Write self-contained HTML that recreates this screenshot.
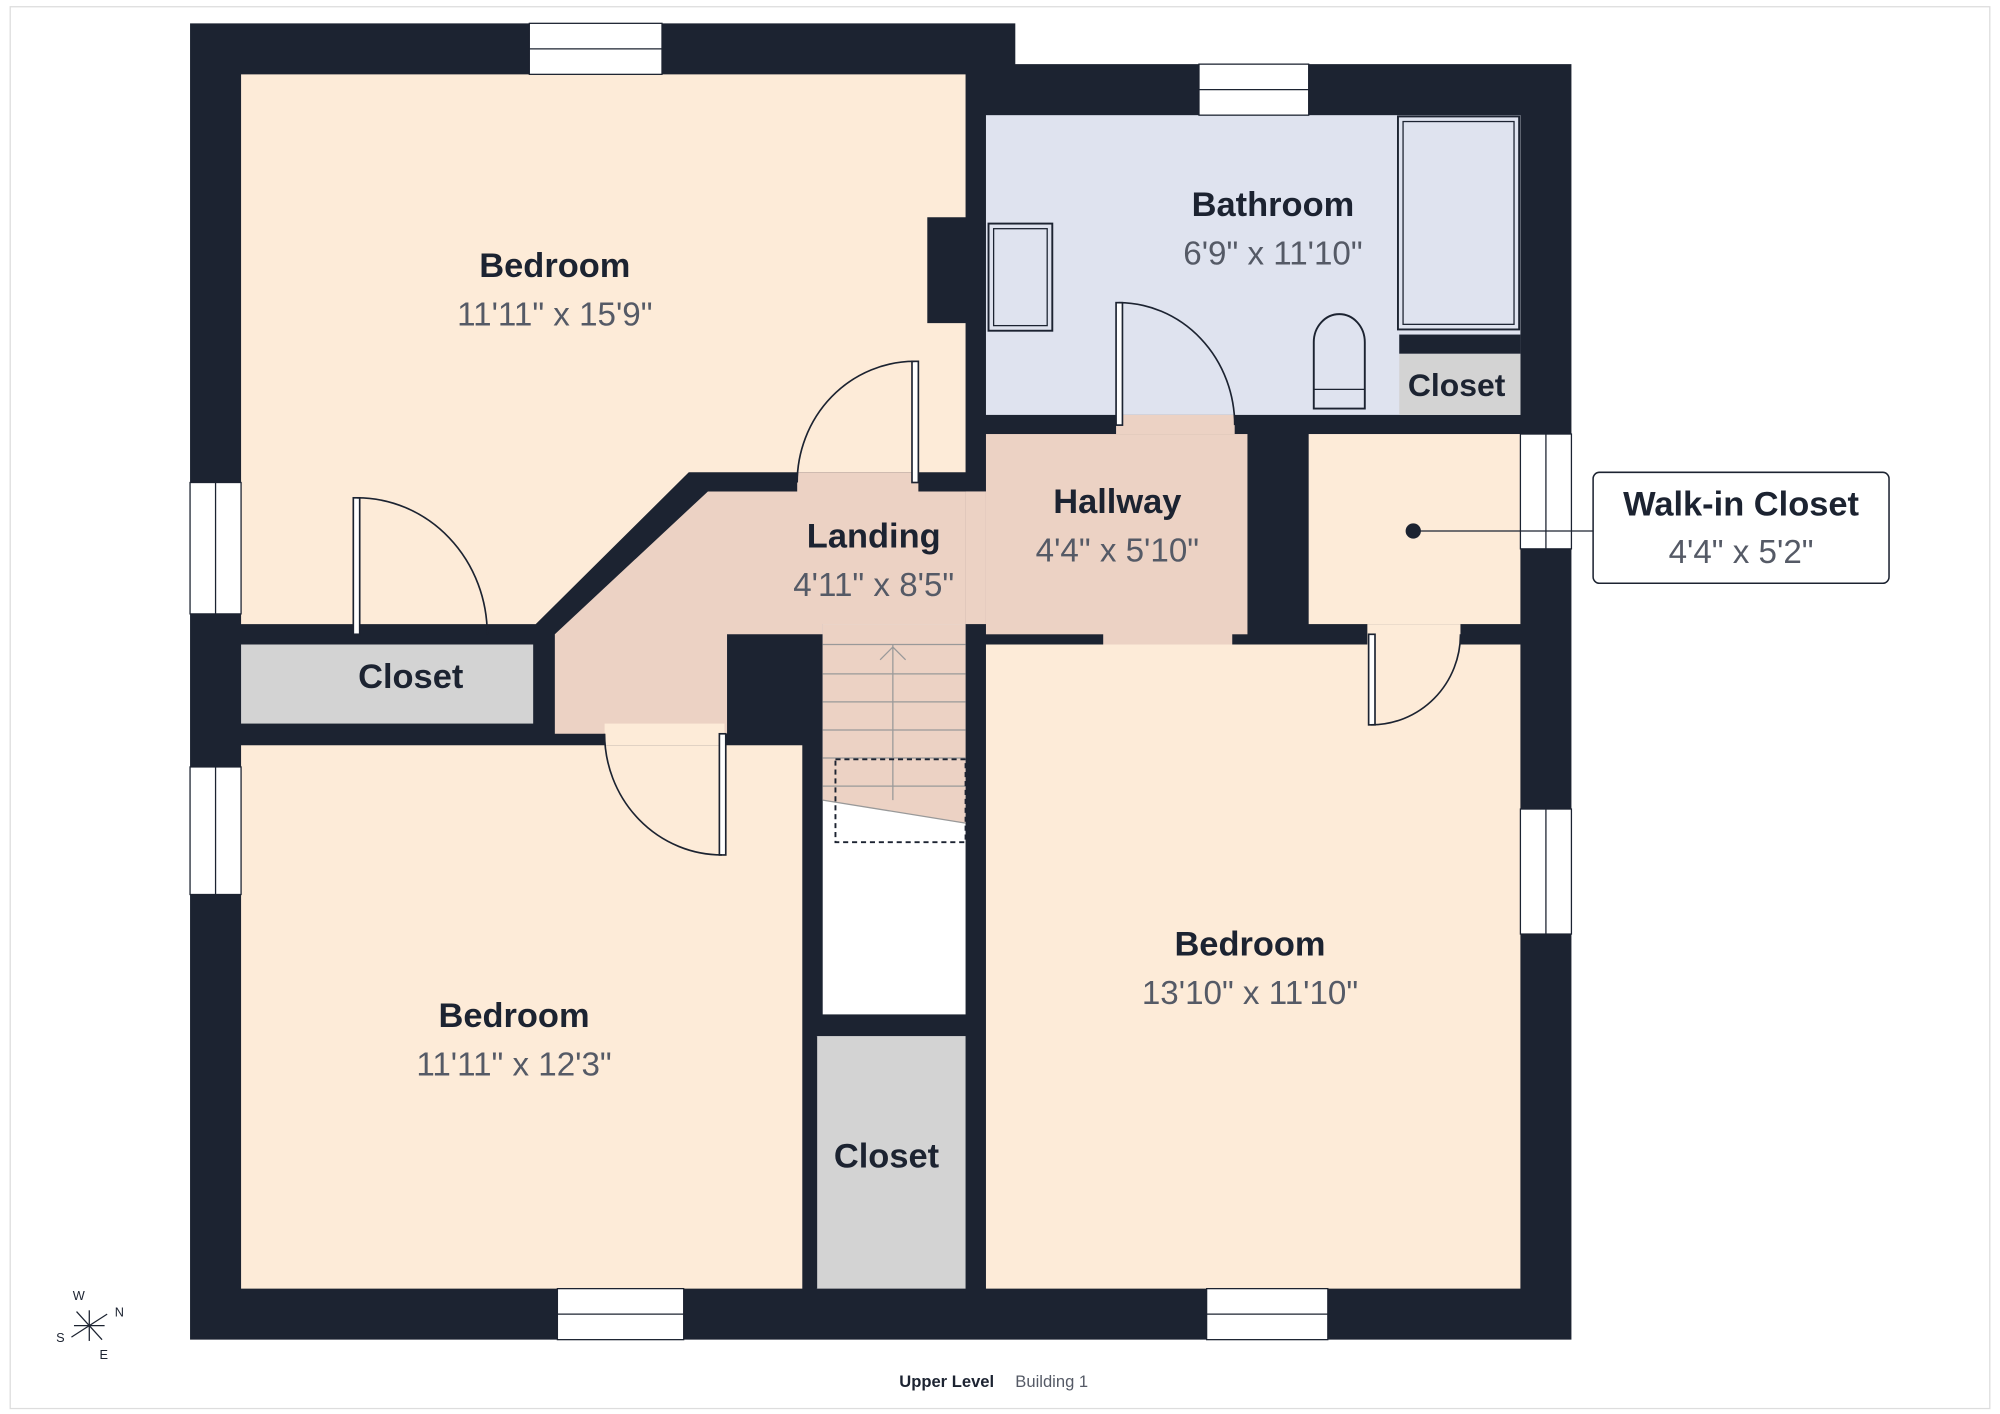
<!DOCTYPE html>
<html><head><meta charset="utf-8"><style>
html,body{margin:0;padding:0;background:#fff;width:2000px;height:1414px;overflow:hidden}
svg{display:block}
text{font-family:"Liberation Sans",sans-serif}
.lb{font-weight:bold;font-size:27px;fill:#1c2331;text-anchor:middle}
.dm{font-size:26px;fill:#555a66;text-anchor:middle}
</style></head><body>
<svg width="2000" height="1414" viewBox="0 0 1568 1108" xmlns="http://www.w3.org/2000/svg">
<rect x="8" y="5" width="1552" height="1099" fill="none" stroke="#ddd" stroke-width="1"/>
<path d="M149 18 H796 V50 H1232 V1050 H149 Z" fill="#1c2331"/>
<polygon points="189,58 757,58 757,170 727,170 727,253 757,253 757,370 540,370 420,489 189,489" fill="#fdebd8"/>
<polygon points="555,385 757,385 757,489 645,489 645,497 570,497 570,575 435,575 435,497" fill="#ecd2c4"/>
<rect x="773" y="340" width="205" height="157" fill="#ecd2c4"/>
<rect x="865" y="489" width="101" height="16" fill="#ecd2c4"/>
<rect x="625" y="370" width="95" height="16" fill="#ecd2c4"/>
<rect x="757" y="385" width="16" height="104" fill="#ecd2c4"/>
<rect x="189" y="505" width="229" height="62" fill="#d3d3d3"/>
<rect x="189" y="584" width="440" height="426" fill="#fdebd8"/>
<rect x="474" y="567" width="94" height="17" fill="#fdebd8"/>
<rect x="645" y="489" width="112" height="306" fill="#fff"/>
<polygon points="645,489 757,489 757,645 645,627" fill="#ecd2c4"/>
<g stroke="#999" stroke-width="1">
<line x1="645" y1="505" x2="757" y2="505"/>
<line x1="645" y1="528" x2="757" y2="528"/><line x1="645" y1="550" x2="757" y2="550"/>
<line x1="645" y1="572" x2="757" y2="572"/><line x1="645" y1="594" x2="757" y2="594"/>
<line x1="645" y1="616" x2="757" y2="616"/><line x1="645" y1="627" x2="757" y2="645"/>
<line x1="700" y1="505" x2="700" y2="627"/>
<polyline points="690,517 700,507 710,517" fill="none"/>
</g>
<rect x="655" y="595" width="102" height="65" fill="none" stroke="#1c2331" stroke-width="1.5" stroke-dasharray="4,3"/>
<rect x="640" y="812" width="117" height="198" fill="#d3d3d3"/>
<rect x="773" y="505" width="419" height="505" fill="#fdebd8"/>
<rect x="865" y="489" width="101" height="16" fill="#ecd2c4"/>
<rect x="1072" y="489" width="73" height="16" fill="#fdebd8"/>
<rect x="773" y="90" width="419" height="235" fill="#dfe3ef"/>
<rect x="875" y="325" width="93" height="15" fill="#ecd2c4"/>
<rect x="1097" y="277" width="95" height="48" fill="#d3d3d3"/>
<rect x="1026" y="340" width="166" height="149" fill="#fdebd8"/>
<rect x="775" y="175" width="50" height="84" fill="none" stroke="#1c2331" stroke-width="1.5"/>
<rect x="779" y="179" width="42" height="76" fill="none" stroke="#1c2331" stroke-width="1"/>
<rect x="1096" y="91" width="95" height="167" fill="none" stroke="#1c2331" stroke-width="1.5"/>
<rect x="1100" y="95" width="87" height="159" fill="none" stroke="#1c2331" stroke-width="1"/>
<path d="M1030 320 V268 A20 22 0 0 1 1070 268 V320 Z" fill="none" stroke="#1c2331" stroke-width="1.5"/>
<line x1="1030" y1="305" x2="1070" y2="305" stroke="#1c2331"/>
<rect x="1097" y="262" width="95" height="15" fill="#1c2331"/>
<g fill="#fff" stroke="#1c2331" stroke-width="1">
<rect x="415" y="18" width="104" height="40"/><line x1="415" y1="38" x2="519" y2="38"/>
<rect x="940" y="50" width="86" height="40"/><line x1="940" y1="70" x2="1026" y2="70"/>
<rect x="149" y="378" width="40" height="103"/><line x1="169" y1="378" x2="169" y2="481"/>
<rect x="149" y="601" width="40" height="100"/><line x1="169" y1="601" x2="169" y2="701"/>
<rect x="1192" y="340" width="40" height="90"/><line x1="1212" y1="340" x2="1212" y2="430"/>
<rect x="1192" y="634" width="40" height="98"/><line x1="1212" y1="634" x2="1212" y2="732"/>
<rect x="437" y="1010" width="99" height="40"/><line x1="437" y1="1030" x2="536" y2="1030"/>
<rect x="946" y="1010" width="95" height="40"/><line x1="946" y1="1030" x2="1041" y2="1030"/>
</g>
<g fill="#fff" stroke="#1c2331" stroke-width="1.3">
<rect x="715" y="283" width="5" height="95"/><path d="M625 378 A92 95 0 0 1 717 283" fill="none"/>
<rect x="277" y="390" width="5" height="107"/><path d="M382 497 A102 107 0 0 0 280 390" fill="none"/>
<rect x="564" y="575" width="5" height="95"/><path d="M474 575 A92 95 0 0 0 566 670" fill="none"/>
<rect x="875" y="237" width="5" height="96"/><path d="M968 333 A91 96 0 0 0 877 237" fill="none"/>
<rect x="1073" y="497" width="5" height="71"/><path d="M1145 497 A70 71 0 0 1 1075 568" fill="none"/>
<line x1="636" y1="812" x2="636" y2="1010"/><line x1="640" y1="812" x2="640" y2="1010"/>
</g>
<text class="lb" x="435" y="217">Bedroom</text><text class="dm" x="435" y="255">11'11" x 15'9"</text>
<text class="lb" x="998" y="169">Bathroom</text><text class="dm" x="998" y="207">6'9" x 11'10"</text>
<text class="lb" x="1142" y="310" style="font-size:25px">Closet</text>
<text class="lb" x="876" y="402">Hallway</text><text class="dm" x="876" y="440">4'4" x 5'10"</text>
<text class="lb" x="685" y="429">Landing</text><text class="dm" x="685" y="467">4'11" x 8'5"</text>
<text class="lb" x="322" y="539">Closet</text>
<text class="lb" x="403" y="805">Bedroom</text><text class="dm" x="403" y="843">11'11" x 12'3"</text>
<text class="lb" x="695" y="915">Closet</text>
<text class="lb" x="980" y="749">Bedroom</text><text class="dm" x="980" y="787">13'10" x 11'10"</text>
<line x1="1108" y1="416" x2="1249" y2="416" stroke="#1c2331" stroke-width="1"/>
<circle cx="1108" cy="416" r="6" fill="#1c2331"/>
<rect x="1249" y="370" width="232" height="87" rx="5" fill="#fff" stroke="#1c2331" stroke-width="1.2"/>
<text class="lb" x="1365" y="404">Walk-in Closet</text><text class="dm" x="1365" y="441">4'4" x 5'2"</text>
<g stroke="#1c2331" stroke-width="1">
<line x1="56" y1="1048" x2="84" y2="1030"/><line x1="60" y1="1028" x2="80" y2="1050"/>
<line x1="58" y1="1039" x2="82" y2="1039"/><line x1="70" y1="1027" x2="70" y2="1051"/>
</g>
<g font-size="10" fill="#1c2331" font-family="Liberation Sans,sans-serif">
<text x="57" y="1019">W</text><text x="90" y="1032">N</text><text x="44" y="1052">S</text><text x="78" y="1065">E</text>
</g>
<text x="705" y="1087" font-size="13" font-weight="bold" fill="#1c2331">Upper Level</text>
<text x="796" y="1087" font-size="13" fill="#555a66">Building 1</text>
</svg>
</body></html>
